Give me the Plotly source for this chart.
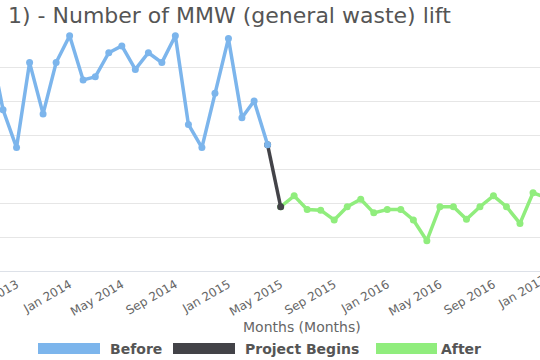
import datetime as dt
import plotly.graph_objects as go

# ---- data ----
before_months = ["2013-07-01", "2013-08-01", "2013-09-01", "2013-10-01", "2013-11-01", "2013-12-01",
                 "2014-01-01", "2014-02-01", "2014-03-01", "2014-04-01", "2014-05-01", "2014-06-01",
                 "2014-07-01", "2014-08-01", "2014-09-01", "2014-10-01", "2014-11-01", "2014-12-01",
                 "2015-01-01", "2015-02-01", "2015-03-01", "2015-04-01"]
before_values = [67.4, 47.4, 36.3, 61.3, 46.2, 61.3, 69.2, 56.2, 57.1, 64.2, 66.2, 59.3,
                 64.2, 61.3, 69.2, 43.1, 36.3, 52.3, 68.4, 45.1, 50.0, 37.1]

project_months = ["2015-04-01", "2015-05-01"]
project_values = [37.1, 18.9]

after_months = ["2015-05-01", "2015-06-01", "2015-07-01", "2015-08-01", "2015-09-01", "2015-10-01",
                "2015-11-01", "2015-12-01", "2016-01-01", "2016-02-01", "2016-03-01", "2016-04-01",
                "2016-05-01", "2016-06-01", "2016-07-01", "2016-08-01", "2016-09-01", "2016-10-01",
                "2016-11-01", "2016-12-01", "2017-01-01"]
after_values = [18.9, 22.1, 18.1, 17.9, 15.0, 18.9, 21.1, 17.1, 18.1, 18.1, 15.0, 8.9,
                18.9, 18.9, 15.2, 18.9, 22.1, 18.9, 14.0, 23.0, 21.5]

series_names = ["Before", "Project Begins", "After"]
series_colors = ["#7cb5ec", "#434348", "#90ed7d"]

title_text = "1) - Number of MMW (general waste) lift"
x_title = "Months (Months)"
x_range = ["2013-07-25", "2016-12-17"]
edge_tick = "2017-01-01"   # tick just past the visible right edge (label partly visible)

# ---- layout geometry ----
W, H = 540, 360
PLOT_TOP, PLOT_BOTTOM = 30, 271
PLOT_H = PLOT_BOTTOM - PLOT_TOP


def py(px):
    return (PLOT_BOTTOM - px) / PLOT_H


def pxx(px):
    return px / W


def date_to_paper(d):
    d0 = dt.date.fromisoformat(x_range[0])
    d1 = dt.date.fromisoformat(x_range[1])
    dd = dt.date.fromisoformat(d)
    return (dd - d0).days / (d1 - d0).days


fig = go.Figure()

fig.add_trace(go.Scatter(x=after_months, y=after_values, mode="lines+markers", name=series_names[2],
                         line=dict(color=series_colors[2], width=3.5),
                         marker=dict(color=series_colors[2], size=7)))
fig.add_trace(go.Scatter(x=project_months, y=project_values, mode="lines+markers", name=series_names[1],
                         line=dict(color=series_colors[1], width=3.5),
                         marker=dict(color=series_colors[1], size=7)))
fig.add_trace(go.Scatter(x=before_months, y=before_values, mode="lines+markers", name=series_names[0],
                         line=dict(color=series_colors[0], width=3.5),
                         marker=dict(color=series_colors[0], size=7)))

fig.update_layout(
    width=W, height=H,
    margin=dict(l=0, r=0, t=PLOT_TOP, b=H - PLOT_BOTTOM, pad=0, autoexpand=False),
    paper_bgcolor="white", plot_bgcolor="white",
    showlegend=False, hovermode=False,
    font=dict(family="DejaVu Sans", color="#666666"),
    title=dict(text=title_text, x=8 / W, xanchor="left", y=1 - 15 / H, yanchor="middle",
               font=dict(family="DejaVu Sans", size=22, color="#555555")),
)

fig.update_xaxes(
    type="date", range=x_range,
    tick0="2014-01-01", dtick="M4", tickformat="%b %Y", tickangle=-30,
    tickfont=dict(family="DejaVu Sans", size=12, color="#666666"),
    showgrid=False, showline=True, linecolor="#dde1e8", linewidth=1,
    ticks="", ticklabelstandoff=1, automargin=False, ticklabeloverflow="allow",
)
fig.update_yaxes(
    range=[0, PLOT_H / 3.4], tickvals=[0, 10, 20, 30, 40, 50, 60],
    showticklabels=False, showgrid=True, gridcolor="#e6e6e6", gridwidth=1,
    zeroline=False, showline=False, automargin=False,
)

# partially visible tick label just beyond the right edge
edge_px = date_to_paper(edge_tick) * W
fig.add_annotation(text=dt.date.fromisoformat(edge_tick).strftime("%b %Y"),
                   xref="paper", yref="paper", x=pxx(edge_px - 25), y=py(291.5),
                   xanchor="center", yanchor="middle", showarrow=False, textangle=-30,
                   font=dict(family="DejaVu Sans", size=12, color="#666666"))

# axis title
fig.add_annotation(text=x_title, xref="paper", yref="paper", x=pxx(302), y=py(327),
                   xanchor="center", yanchor="middle", showarrow=False,
                   font=dict(family="DejaVu Sans", size=14, color="#666666"))

# manual legend
legend_rects = [(38, 100), (173, 235), (376, 437)]
legend_text_x = [108, 243, 439]
for (x0, x1), tx, name, col in zip(legend_rects, legend_text_x, series_names, series_colors):
    fig.add_shape(type="rect", xref="paper", yref="paper", x0=pxx(x0), x1=pxx(x1),
                  y0=py(354), y1=py(343), fillcolor=col, line=dict(width=0), layer="above")
    fig.add_annotation(text="<b>" + name + "</b>", xref="paper", yref="paper", x=pxx(tx), y=py(348.5),
                       xanchor="left", yanchor="middle", showarrow=False,
                       font=dict(family="DejaVu Sans", size=14, color="#555555"))

fig.write_html("out.html", config={"displayModeBar": False, "staticPlot": True},
               post_script="document.body.style.margin='0';document.body.style.overflow='hidden';")
